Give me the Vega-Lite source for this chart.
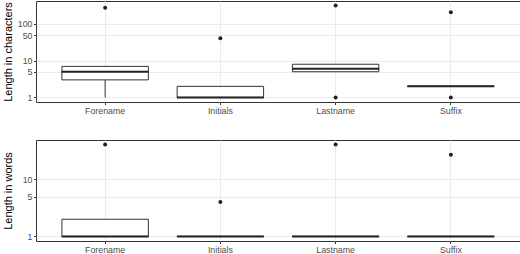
{
  "$schema": "https://vega.github.io/schema/vega-lite/v6.json",
  "padding": {"left": 1, "top": 0, "right": 0, "bottom": 0},
  "background": "white",
  "bounds": "flush",
  "spacing": 38,
  "config": {
    "view": {"stroke": "#333333", "strokeWidth": 1},
    "font": "Liberation Sans",
    "axis": {
      "labelFont": "Liberation Sans",
      "labelFontSize": 8.8,
      "labelColor": "#4D4D4D",
      "tickColor": "#333333",
      "tickSize": 2.5,
      "labelPadding": 1.5,
      "domain": false,
      "gridColor": "#EBEBEB",
      "gridWidth": 1,
      "titleFont": "Liberation Sans",
      "titleFontSize": 11,
      "titleFontWeight": "normal",
      "titleColor": "#000000"
    }
  },
  "datasets": {
    "charStats": [
      {"name": "Forename", "lower": 1, "q1": 3, "median": 5, "q3": 7, "upper": 7},
      {"name": "Initials", "lower": 1, "q1": 1, "median": 1, "q3": 2, "upper": 2},
      {"name": "Lastname", "lower": 5, "q1": 5, "median": 6, "q3": 8, "upper": 8},
      {"name": "Suffix", "lower": 2, "q1": 2, "median": 2, "q3": 2, "upper": 2}
    ],
    "charOut": [
      {"name": "Forename", "value": 275},
      {"name": "Initials", "value": 41},
      {"name": "Lastname", "value": 1},
      {"name": "Lastname", "value": 317},
      {"name": "Suffix", "value": 1},
      {"name": "Suffix", "value": 208}
    ],
    "wordStats": [
      {"name": "Forename", "lower": 1, "q1": 1, "median": 1, "q3": 2, "upper": 2},
      {"name": "Initials", "lower": 1, "q1": 1, "median": 1, "q3": 1, "upper": 1},
      {"name": "Lastname", "lower": 1, "q1": 1, "median": 1, "q3": 1, "upper": 1},
      {"name": "Suffix", "lower": 1, "q1": 1, "median": 1, "q3": 1, "upper": 1}
    ],
    "wordOut": [
      {"name": "Forename", "value": 41},
      {"name": "Initials", "value": 4},
      {"name": "Lastname", "value": 41},
      {"name": "Suffix", "value": 27}
    ]
  },
  "vconcat": [
    {
      "width": 484,
      "height": 101,
      "layer": [
        {
          "data": {"name": "charStats"},
          "mark": {"type": "rule", "color": "#333333", "strokeWidth": 1},
          "encoding": {
            "x": {"field": "name", "type": "nominal", "title": null,
              "scale": {"domain": ["Forename", "Initials", "Lastname", "Suffix"], "paddingInner": 0, "paddingOuter": 0.1},
              "axis": {"labelAngle": 0, "bandPosition": 0.5, "grid": true, "ticks": true}},
            "y": {"field": "lower", "type": "quantitative", "title": "Length in characters",
              "scale": {"type": "log", "domain": [0.75, 422], "nice": false, "zero": false},
              "axis": {"values": [1, 5, 10, 50, 100], "format": "d", "grid": true, "minExtent": 18, "maxExtent": 18, "titlePadding": 5}},
            "y2": {"field": "upper"}
          }
        },
        {
          "data": {"name": "charStats"},
          "mark": {"type": "bar", "width": {"band": 0.75}, "fill": "white", "stroke": "#333333", "strokeWidth": 1},
          "encoding": {
            "x": {"field": "name", "type": "nominal", "title": null},
            "y": {"field": "q1", "type": "quantitative", "title": "Length in characters"},
            "y2": {"field": "q3"}
          }
        },
        {
          "data": {"name": "charStats"},
          "mark": {"type": "tick", "size": 87, "thickness": 2, "color": "#222222", "opacity": 1},
          "encoding": {
            "x": {"field": "name", "type": "nominal", "title": null},
            "y": {"field": "median", "type": "quantitative", "title": "Length in characters"}
          }
        },
        {
          "data": {"name": "charOut"},
          "mark": {"type": "circle", "size": 16, "color": "#222222", "opacity": 1},
          "encoding": {
            "x": {"field": "name", "type": "nominal", "title": null},
            "y": {"field": "value", "type": "quantitative", "title": "Length in characters"}
          }
        }
      ]
    },
    {
      "width": 484,
      "height": 101,
      "layer": [
        {
          "data": {"name": "wordStats"},
          "mark": {"type": "rule", "color": "#333333", "strokeWidth": 1},
          "encoding": {
            "x": {"field": "name", "type": "nominal", "title": null,
              "scale": {"domain": ["Forename", "Initials", "Lastname", "Suffix"], "paddingInner": 0, "paddingOuter": 0.1},
              "axis": {"labelAngle": 0, "bandPosition": 0.5, "grid": true, "ticks": true}},
            "y": {"field": "lower", "type": "quantitative", "title": "Length in words",
              "scale": {"type": "log", "domain": [0.831, 49.2], "nice": false, "zero": false},
              "axis": {"values": [1, 5, 10], "format": "d", "grid": true, "minExtent": 18, "maxExtent": 18, "titlePadding": 5}},
            "y2": {"field": "upper"}
          }
        },
        {
          "data": {"name": "wordStats"},
          "mark": {"type": "bar", "width": {"band": 0.75}, "fill": "white", "stroke": "#333333", "strokeWidth": 1},
          "encoding": {
            "x": {"field": "name", "type": "nominal", "title": null},
            "y": {"field": "q1", "type": "quantitative", "title": "Length in words"},
            "y2": {"field": "q3"}
          }
        },
        {
          "data": {"name": "wordStats"},
          "mark": {"type": "tick", "size": 87, "thickness": 2, "color": "#222222", "opacity": 1},
          "encoding": {
            "x": {"field": "name", "type": "nominal", "title": null},
            "y": {"field": "median", "type": "quantitative", "title": "Length in words"}
          }
        },
        {
          "data": {"name": "wordOut"},
          "mark": {"type": "circle", "size": 16, "color": "#222222", "opacity": 1},
          "encoding": {
            "x": {"field": "name", "type": "nominal", "title": null},
            "y": {"field": "value", "type": "quantitative", "title": "Length in words"}
          }
        }
      ]
    }
  ]
}
